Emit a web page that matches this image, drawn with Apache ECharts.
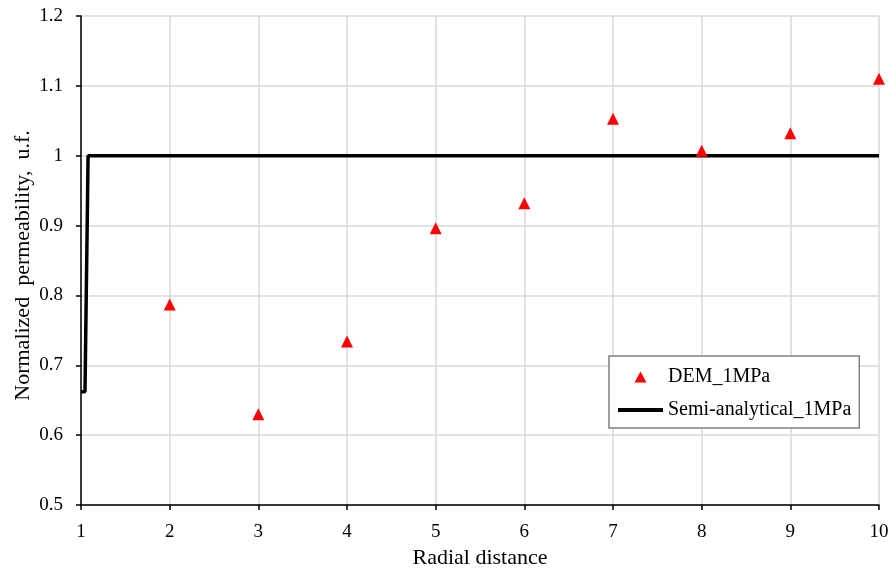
<!DOCTYPE html>
<html><head><meta charset="utf-8">
<script src="https://cdn.jsdelivr.net/npm/echarts@6/dist/echarts.min.js"></script>
<style>html,body{margin:0;padding:0;background:#fff}#c{width:891px;height:570px}</style>
</head><body><div id="c"></div>
<script>
const xTicks = [1,2,3,4,5,6,7,8,9,10];
const demX = [2,3,4,5,6,7,8,9,10];
const demY = [0.787,0.630,0.734,0.896,0.932,1.053,1.007,1.032,1.110];
const semiX = [1,1.045,1.08,10];
const semiY = [0.662,0.662,1.0,1.0];
const FONT = 'Liberation Serif';
const chart = echarts.init(document.getElementById('c'));
chart.setOption({
  backgroundColor:'#fff',
  animation:false,
  grid:{left:81,right:12,top:16,bottom:65,containLabel:false,outerBoundsMode:'none'},
  xAxis:{type:'value',min:1,max:10,interval:1,
    name:'Radial distance',nameLocation:'middle',nameGap:42,
    nameTextStyle:{fontFamily:FONT,fontSize:22,color:'#000'},
    axisLine:{lineStyle:{color:'#000',width:1.5}},
    axisTick:{show:true,inside:false,length:5,lineStyle:{color:'#000',width:1.5}},
    axisLabel:{fontFamily:FONT,fontSize:19,color:'#000',margin:18},
    splitLine:{show:true,lineStyle:{color:'#d9d9d9',width:1.5}}},
  yAxis:{type:'value',min:0.5,max:1.2,interval:0.1,
    name:'Normalized  permeability,  u.f.',nameLocation:'middle',nameGap:47,nameMoveOverlap:false,
    nameTextStyle:{fontFamily:FONT,fontSize:22,color:'#000',padding:[0,10,0,0]},
    axisLine:{show:true,lineStyle:{color:'#000',width:1.5}},
    axisTick:{show:true,inside:false,length:5,lineStyle:{color:'#000',width:1.5}},
    axisLabel:{fontFamily:FONT,fontSize:19,color:'#000',margin:18,
      formatter:v=>String(Math.round(v*10)/10)},
    splitLine:{show:true,lineStyle:{color:'#d9d9d9',width:1.5}}},
  legend:{orient:'vertical',left:609,top:356,padding:[10,8,7,9],
    itemWidth:45,itemHeight:11,itemGap:11,symbolKeepAspect:true,
    backgroundColor:'#fff',borderColor:'#808080',borderWidth:1.5,borderRadius:0,
    textStyle:{fontFamily:FONT,fontSize:20,color:'#000',lineHeight:22},
    data:[
      {name:'DEM_1MPa',icon:'path://M6,0L12,11L0,11Z',itemStyle:{color:'#ff0000'}},
      {name:'Semi-analytical_1MPa',icon:'path://M0,0H45V4H0Z',itemStyle:{color:'#000'}}
    ]},
  series:[
    {name:'DEM_1MPa',type:'scatter',symbol:'triangle',symbolSize:12,
     itemStyle:{color:'#ff0000',opacity:1},
     data:demX.map((x,i)=>[x,demY[i]]),z:3},
    {name:'Semi-analytical_1MPa',type:'line',symbol:'none',
     lineStyle:{color:'#000',width:3.5},itemStyle:{color:'#000'},
     data:semiX.map((x,i)=>[x,semiY[i]]),z:2}
  ]
});
</script></body></html>
